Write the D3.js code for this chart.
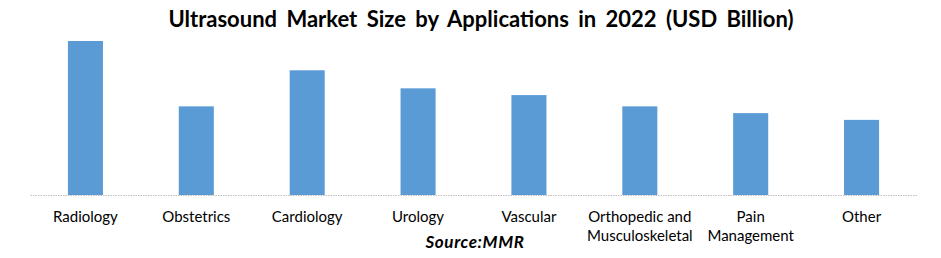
<!DOCTYPE html>
<html>
<head>
<meta charset="utf-8">
<script src="https://cdn.jsdelivr.net/npm/d3@7"></script>
<style>
    body { margin: 0; background: #fff; }
    #chart-area { width: 941px; height: 258px; }
</style>
</head>
<body>
<div id="chart-area"></div>
<script>

// chart values (USD Billion)
const categories = ["Radiology", "Obstetrics", "Cardiology", "Urology", "Vascular",
    "Orthopedic and Musculoskeletal", "Pain Management", "Other"];
const marketSize = [2.05, 1.18, 1.66, 1.42, 1.33, 1.18, 1.09, 1.00];
const tickLabels = [["Radiology"], ["Obstetrics"], ["Cardiology"], ["Urology"], ["Vascular"],
    ["Orthopedic and", "Musculoskeletal"], ["Pain", "Management"], ["Other"]];
const yMax = 2.05;

class MarketBarChart {

    constructor(parentElement, data) {
        this.parentElement = parentElement;
        this.data = data;

        this.initVis();
    }

    initVis() {
        let vis = this;

        vis.width = 941;
        vis.height = 258;

        vis.svg = d3.select(`#${vis.parentElement}`)
            .append("svg")
            .attr("width", vis.width)
            .attr("height", vis.height);

        // title
        vis.svg.append("text")
            .attr("x", 481)
            .attr("y", 27)
            .attr("text-anchor", "middle")
            .attr("font-family", "Lato, sans-serif")
            .attr("font-weight", "bold")
            .attr("font-size", 22)
            .attr("word-spacing", 4)
            .attr("fill", "#000")
            .text("Ultrasound Market Size by Applications in 2022 (USD Billion)");

        vis.x = d3.scaleBand()
            .domain(vis.data.map(d => d.category))
            .range([30, 917])
            .paddingInner(0.684)
            .paddingOuter(0.342);

        vis.y = d3.scaleLinear()
            .domain([0, yMax])
            .range([195, 41]);

        vis.wrangleData();
    }

    wrangleData() {
        let vis = this;

        vis.displayData = vis.data;

        vis.updateVis();
    }

    updateVis() {
        let vis = this;

        vis.svg.selectAll(".bar")
            .data(vis.displayData)
            .enter().append("rect")
            .attr("class", "bar")
            .attr("x", d => vis.x(d.category))
            .attr("width", vis.x.bandwidth())
            .attr("y", d => vis.y(d.value))
            .attr("height", d => vis.y(0) - vis.y(d.value))
            .attr("fill", "#5B9BD5");

        let axis = vis.svg.append("g")
            .attr("transform", `translate(0,${vis.y(0)})`)
            .call(d3.axisBottom(vis.x).tickSize(0).tickSizeOuter(0));

        axis.select(".domain")
            .attr("stroke", "#BFBFBF")
            .attr("stroke-width", 1)
            .attr("stroke-dasharray", "1.5,1");

        // multi-line tick labels
        axis.selectAll(".tick text").each(function(d, i) {
            let t = d3.select(this)
                .attr("font-family", "Lato, sans-serif")
                .attr("font-size", 15)
                .attr("fill", "#000")
                .attr("y", 0)
                .attr("dy", null)
                .text(null);
            tickLabels[i].forEach((line, j) => {
                t.append("tspan")
                    .attr("x", 0)
                    .attr("y", 27 + j * 19)
                    .text(line);
            });
        });

        // source note
        vis.svg.append("text")
            .attr("x", 475)
            .attr("y", 248)
            .attr("text-anchor", "middle")
            .attr("font-family", "Lato, sans-serif")
            .attr("font-weight", "bold")
            .attr("font-style", "italic")
            .attr("font-size", 17)
            .attr("letter-spacing", 0.6)
            .attr("fill", "#000")
            .text("Source:MMR");
    }
}

const chartData = categories.map((c, i) => ({category: c, value: marketSize[i]}));
new MarketBarChart("chart-area", chartData);

</script>
</body>
</html>
